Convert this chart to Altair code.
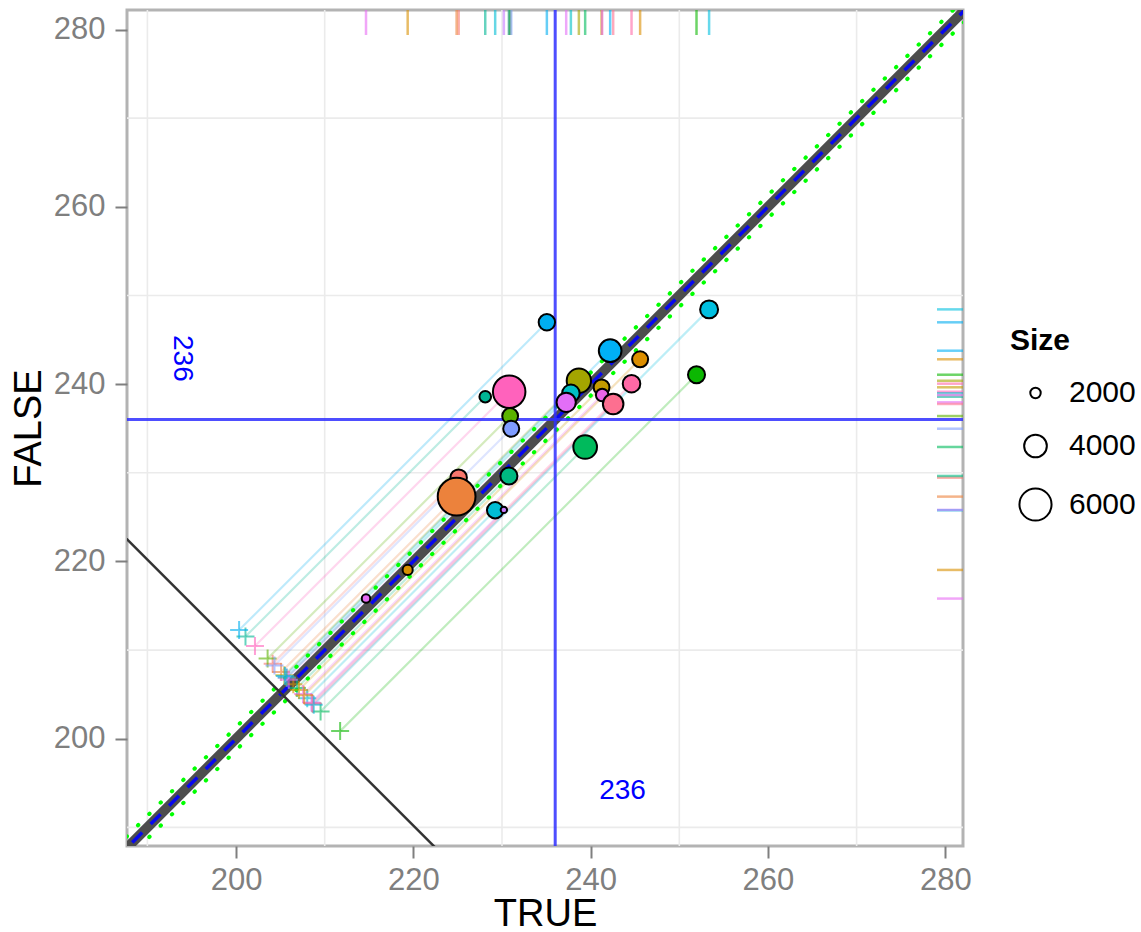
import altair as alt
import pandas as pd

# ---- data ----
X_VALS = [214.66, 219.36, 225.11, 224.88, 228.11, 230.81, 230.92, 231.04,
          230.78, 229.23, 230.21, 235.06, 238.67, 237.77, 237.24, 239.38,
          241.23, 241.30, 242.54, 244.61, 242.20, 245.58, 251.94, 253.36]
Y_VALS = [215.81, 219.04, 229.45, 227.31, 238.58, 239.14, 236.40, 234.97,
          229.64, 225.77, 225.81, 246.97, 240.38, 238.96, 237.95, 232.91,
          239.64, 238.77, 237.76, 240.05, 243.77, 242.80, 241.06, 248.43]
SIZES = [1750, 1960, 2900, 7400, 2170, 6090, 2800, 2830,
         3000, 2890, 1490, 2890, 4320, 3080, 3370, 4190,
         2800, 2300, 3600, 3080, 4000, 2830, 2995, 3150]
COLORS = ["#E76BF3", "#D89000", "#F8766D", "#EC823C", "#00B594", "#FF62BC",
          "#5BB300", "#7F9CFF", "#00B981", "#00BCD4", "#C77CFF", "#00AEF0",
          "#A3A500", "#00BFC4", "#E26EF7", "#00BA5C", "#C49A00", "#EA66E6",
          "#FD6F90", "#FF69A6", "#00B0F6", "#DB8E00", "#0CB702", "#00BFE0"]

CROSS_SUM = 412.6       # crosses lie on x + y = CROSS_SUM
ANTI_SUM = 410.2        # black line x + y = ANTI_SUM
ANTI_X = [180.0, 240.0]
DIAG = [180.0, 290.0]
BAND = 1.3
REF_VALUE = 236
LABEL_BOTTOM = [243.6, 194.1]
LABEL_LEFT = [193.9, 242.9]
X_DOMAIN = [187.7, 282.0]
Y_DOMAIN = [187.9, 282.2]
MAJOR_TICKS = [200, 220, 240, 260, 280]
MINOR_GRID = [190, 210, 230, 250, 270]
LEGEND_VALUES = [2000, 4000, 6000]
SIZE_OFFSET = 29

W, H = 836, 836
FONT = "Liberation Sans"

df = pd.DataFrame({"x": X_VALS, "y": Y_VALS, "Size": SIZES, "color": COLORS})

xs = alt.Scale(domain=X_DOMAIN, nice=False, zero=False)
ys = alt.Scale(domain=Y_DOMAIN, nice=False, zero=False)
xax = alt.Axis(values=MAJOR_TICKS, title="TRUE")
yax = alt.Axis(values=MAJOR_TICKS, title="FALSE")

base = alt.Chart(df).transform_calculate(
    cx=f"({CROSS_SUM} + datum.x - datum.y) / 2",
    cy=f"({CROSS_SUM} - datum.x + datum.y) / 2",
    r=f"max(sqrt(datum.Size) - {SIZE_OFFSET}, 0)",
)

grid_df = pd.DataFrame({"v": MINOR_GRID})
gx = alt.Chart(grid_df).mark_rule(color="#EBEBEB", strokeWidth=1.6).encode(
    x=alt.X("v:Q", scale=xs, axis=xax))
gy = alt.Chart(grid_df).mark_rule(color="#EBEBEB", strokeWidth=1.6).encode(
    y=alt.Y("v:Q", scale=ys, axis=yax))

connectors = base.mark_rule(strokeWidth=2.2, opacity=0.26).encode(
    x=alt.X("x:Q", scale=xs), y=alt.Y("y:Q", scale=ys),
    x2="cx:Q", y2="cy:Q", color=alt.Color("color:N", scale=None))

crosses = base.mark_point(shape="M-1,0L1,0M0,-1L0,1", filled=False, size=324,
                          strokeWidth=2, opacity=0.6).encode(
    x=alt.X("cx:Q", scale=xs), y=alt.Y("cy:Q", scale=ys),
    color=alt.Color("color:N", scale=None))

diag_df = pd.DataFrame({"a": [DIAG[0]], "b": [DIAG[1]],
                        "lo_m": [DIAG[0] - BAND], "hi_m": [DIAG[1] - BAND],
                        "lo_p": [DIAG[0] + BAND], "hi_p": [DIAG[1] + BAND]})
diag_grey = alt.Chart(diag_df).mark_rule(color="#4D4D4D", strokeWidth=10, clip=True).encode(
    x=alt.X("a:Q", scale=xs), y=alt.Y("a:Q", scale=ys), x2="b:Q", y2="b:Q")
diag_blue = alt.Chart(diag_df).mark_rule(color="#0000FF", strokeWidth=3.5, strokeDash=[14, 12],
                                         opacity=0.9, clip=True).encode(
    x=alt.X("a:Q", scale=xs), y=alt.Y("a:Q", scale=ys), x2="b:Q", y2="b:Q")
green_lo = alt.Chart(diag_df).mark_rule(color="#00FF00", strokeWidth=4, strokeDash=[0.5, 15.5],
                                        strokeCap="round", clip=True).encode(
    x=alt.X("a:Q", scale=xs), y=alt.Y("lo_m:Q", scale=ys), x2="b:Q", y2="hi_m:Q")
green_hi = alt.Chart(diag_df).mark_rule(color="#00FF00", strokeWidth=4, strokeDash=[0.5, 15.5],
                                        strokeCap="round", clip=True).encode(
    x=alt.X("a:Q", scale=xs), y=alt.Y("lo_p:Q", scale=ys), x2="b:Q", y2="hi_p:Q")

anti_df = pd.DataFrame({"x1": [ANTI_X[0]], "x2": [ANTI_X[1]],
                        "y1": [ANTI_SUM - ANTI_X[0]], "y2": [ANTI_SUM - ANTI_X[1]]})
anti = alt.Chart(anti_df).mark_rule(color="#333333", strokeWidth=2.5, clip=True).encode(
    x=alt.X("x1:Q", scale=xs), y=alt.Y("y1:Q", scale=ys), x2="x2:Q", y2="y2:Q")

ref_df = pd.DataFrame({"v": [REF_VALUE]})
vline = alt.Chart(ref_df).mark_rule(color="#2F2FFF", strokeWidth=3, opacity=0.85).encode(
    x=alt.X("v:Q", scale=xs))
hline = alt.Chart(ref_df).mark_rule(color="#2F2FFF", strokeWidth=3, opacity=0.85).encode(
    y=alt.Y("v:Q", scale=ys))

rug_top = base.mark_rule(strokeWidth=2.5, opacity=0.6).encode(
    x=alt.X("x:Q", scale=xs), y=alt.value(0), y2=alt.value(25),
    color=alt.Color("color:N", scale=None))
rug_right = base.mark_rule(strokeWidth=2.5, opacity=0.6).encode(
    y=alt.Y("y:Q", scale=ys), x=alt.value(W - 26), x2=alt.value(W),
    color=alt.Color("color:N", scale=None))

legend_r = [v ** 0.5 - SIZE_OFFSET for v in LEGEND_VALUES]
points = base.mark_circle(stroke="black", strokeWidth=2, opacity=1).encode(
    x=alt.X("x:Q", scale=xs), y=alt.Y("y:Q", scale=ys),
    fill=alt.Fill("color:N", scale=None),
    size=alt.Size("r:Q", scale=alt.Scale(type="pow", exponent=2, domain=[0, 60], range=[0, 1580]),
                  legend=alt.Legend(
                      title="Size", values=legend_r,
                      labelExpr=f"format(round(pow(datum.value + {SIZE_OFFSET}, 2) / 1000) * 1000, 'd')",
                      orient="none", legendX=883, legendY=316,
                      symbolFillColor="transparent", symbolStrokeColor="black",
                      symbolStrokeWidth=2, symbolType="circle", symbolOffset=8,
                      titleFontSize=30, titleFontWeight="bold", titleColor="black",
                      labelFontSize=30, labelColor="black", titlePadding=22,
                      rowPadding=22, labelOffset=16, titleFont=FONT, labelFont=FONT)),
)

txt_df = pd.DataFrame({"x": [LABEL_BOTTOM[0]], "y": [LABEL_BOTTOM[1]], "t": [str(REF_VALUE)]})
txt_df2 = pd.DataFrame({"x": [LABEL_LEFT[0]], "y": [LABEL_LEFT[1]], "t": [str(REF_VALUE)]})
text1 = alt.Chart(txt_df).mark_text(color="#0000FF", fontSize=28, font=FONT).encode(
    x=alt.X("x:Q", scale=xs), y=alt.Y("y:Q", scale=ys), text="t:N")
text2 = alt.Chart(txt_df2).mark_text(color="#0000FF", fontSize=28, font=FONT, angle=90).encode(
    x=alt.X("x:Q", scale=xs), y=alt.Y("y:Q", scale=ys), text="t:N")

chart = alt.layer(
    gx, gy, connectors, diag_grey, diag_blue, green_lo, green_hi, anti,
    vline, hline, crosses, rug_top, rug_right, points, text1, text2
).properties(
    width=W, height=H,
    autosize=alt.AutoSizeParams(type="none"),
    padding={"left": 127, "top": 10, "right": 178, "bottom": 86},
).configure_view(
    stroke="#B3B3B3", strokeWidth=3
).configure_axis(
    grid=False, domain=False, labelColor="#7F7F7F", labelFontSize=31, labelFont=FONT,
    tickColor="#7F7F7F", tickSize=12, tickWidth=2, titleFont=FONT, titleFontSize=38,
    titleFontWeight="normal", titleColor="black"
).configure_axisX(
    labelPadding=7, titlePadding=0
).configure_axisY(
    labelPadding=10, titlePadding=5
)

chart.save("out.html", embed_options={"renderer": "svg", "actions": False})
